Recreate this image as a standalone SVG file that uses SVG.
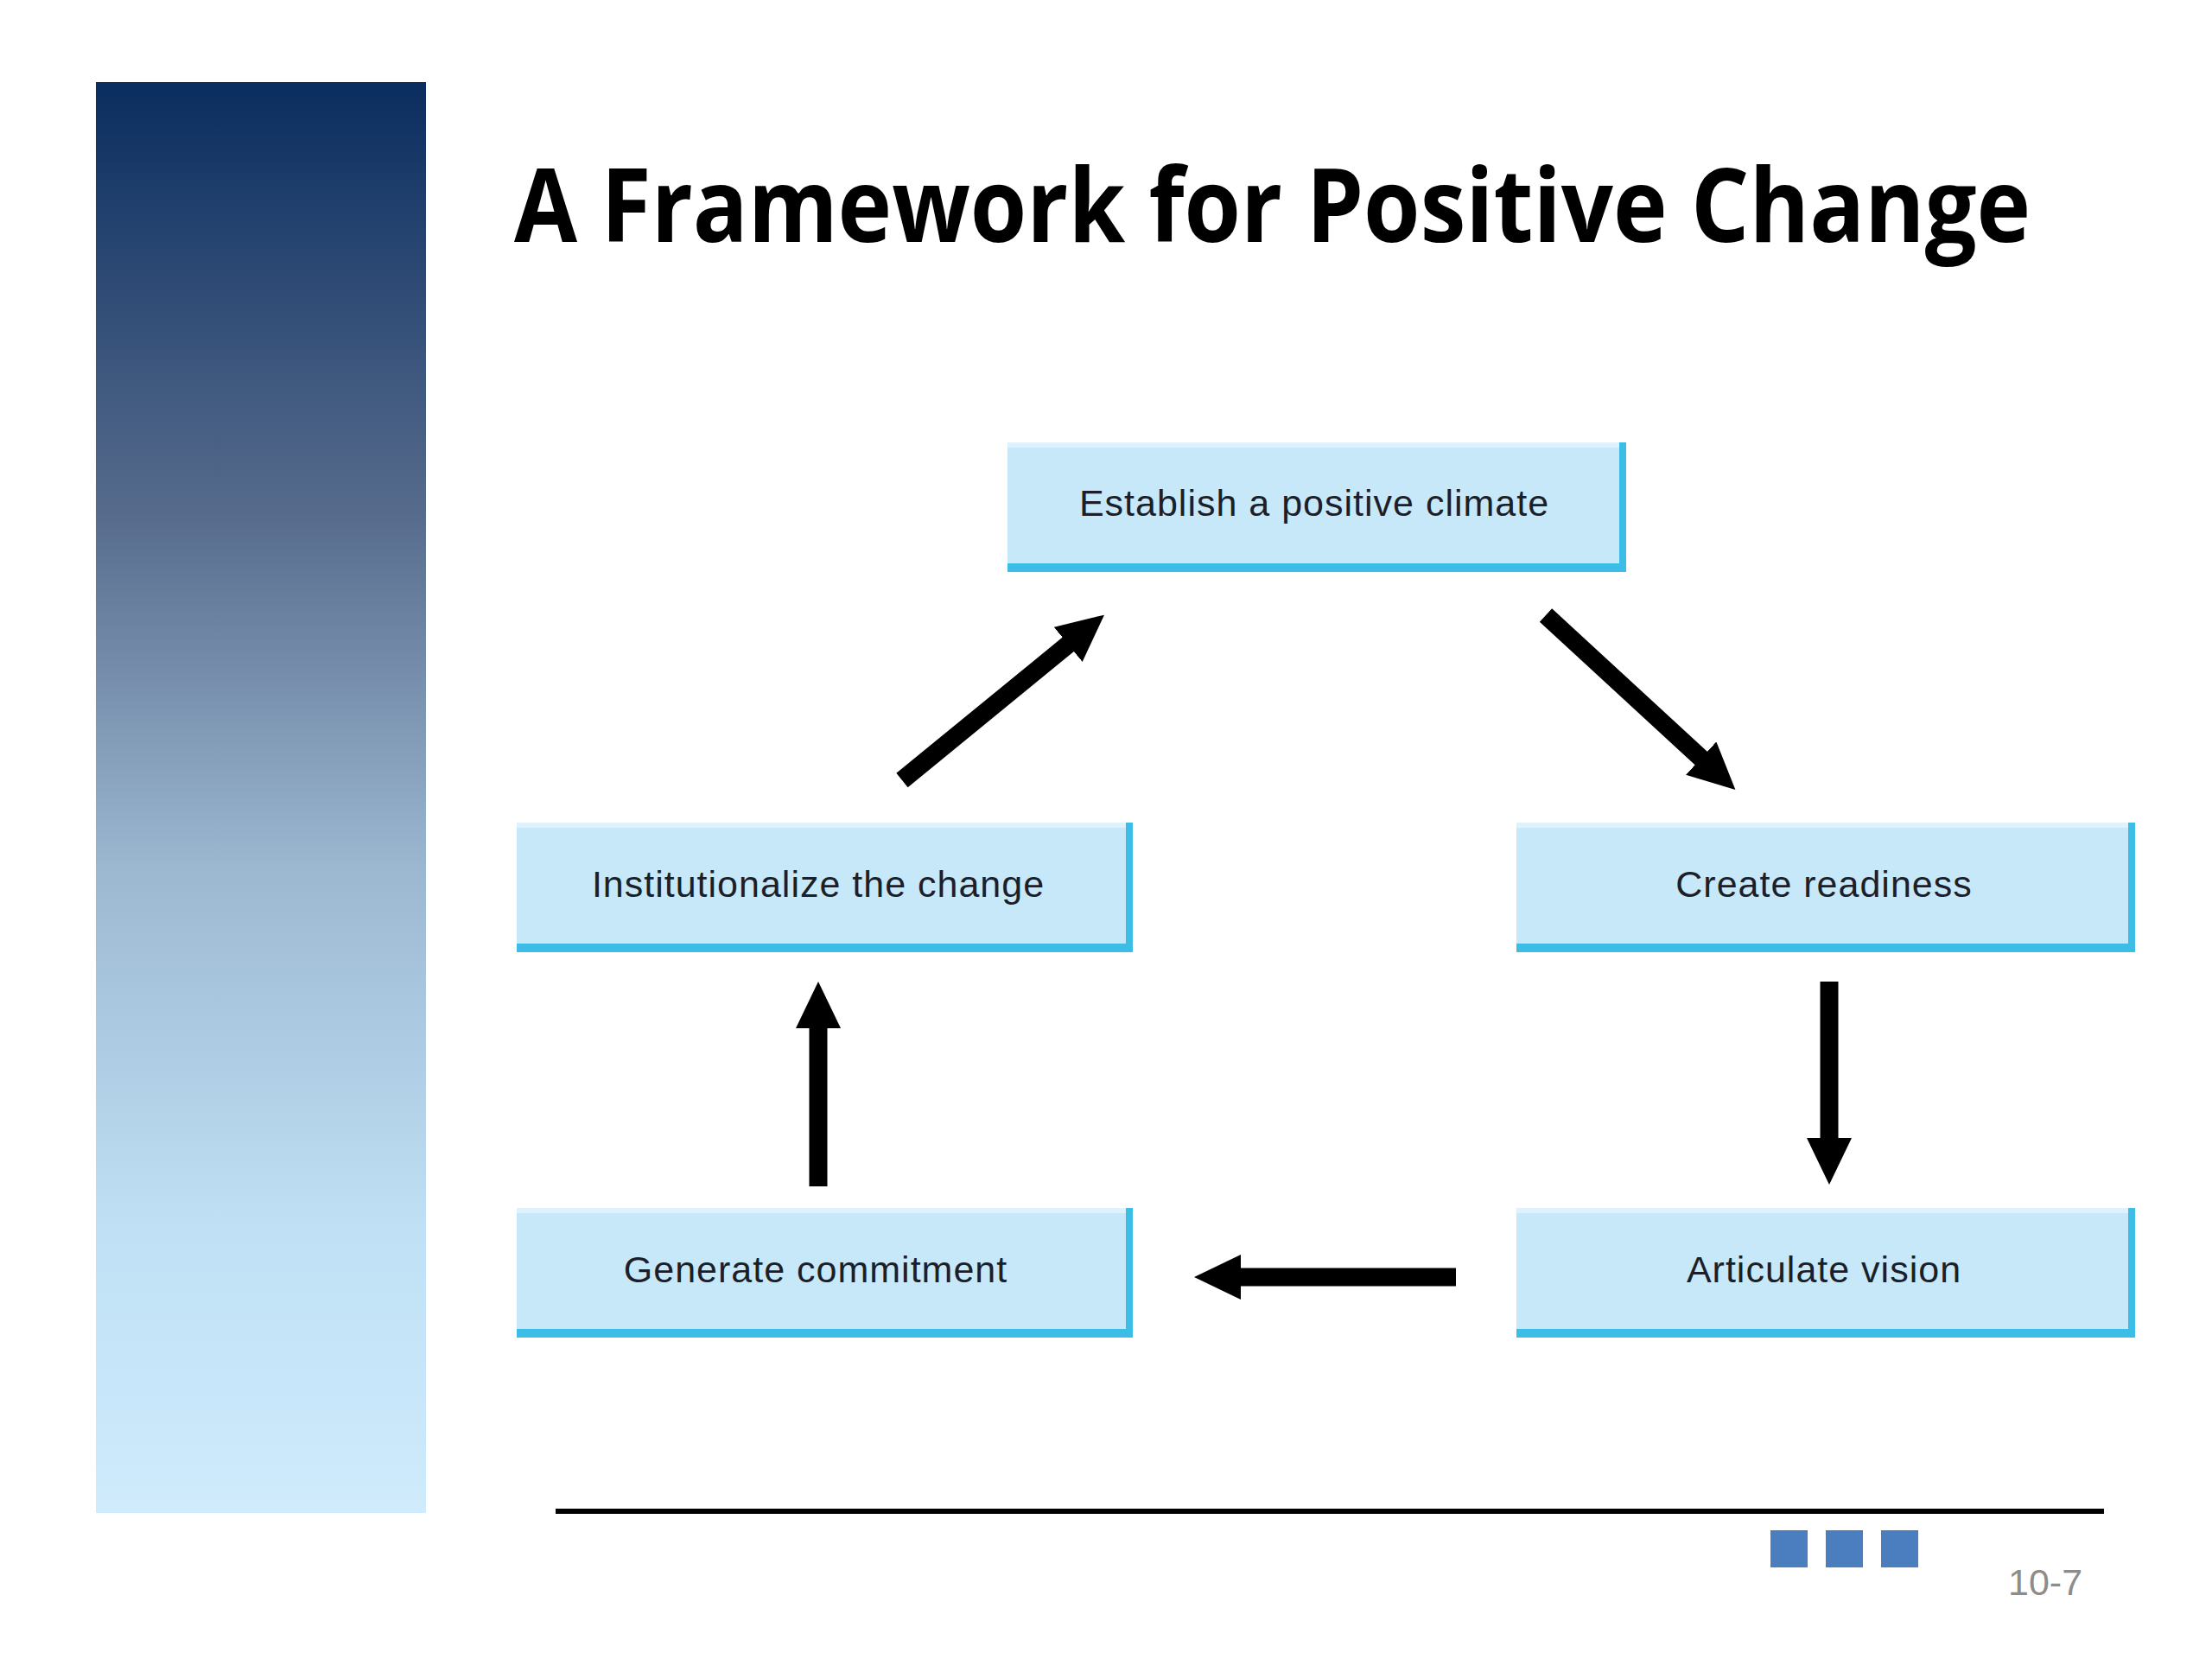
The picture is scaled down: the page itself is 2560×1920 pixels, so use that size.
<svg xmlns="http://www.w3.org/2000/svg" width="2560" height="1920" viewBox="0 0 2560 1920">
<style>
.box{fill:#c6e8f8}
.hl{fill:#dff2fc}
.edge{fill:#3cbde6}
.lbl{font-family:"Liberation Sans",Arial,sans-serif;font-size:43px;fill:#1c1f2a;text-anchor:middle;letter-spacing:1px}
.arr{stroke:#000;stroke-width:21;fill:none;marker-end:url(#head)}
</style>
<defs>
<linearGradient id="bar" x1="0" y1="0" x2="0" y2="1">
<stop offset="0" stop-color="#0a2d5f"/>
<stop offset="0.3" stop-color="#566b8c"/>
<stop offset="0.55" stop-color="#9cb8d1"/>
<stop offset="0.8" stop-color="#bfe0f5"/>
<stop offset="1" stop-color="#cfebfc"/>
</linearGradient>
<marker id="head" markerUnits="userSpaceOnUse" viewBox="0 0 54 52" markerWidth="54" markerHeight="52" refX="14" refY="26" orient="auto">
<path d="M0,0 L54,26 L0,52 Z" fill="#000"/>
</marker>
</defs>
<rect width="2560" height="1920" fill="#fff"/>
<rect x="111" y="95" width="382" height="1656" fill="url(#bar)"/>
<text x="595" y="280" font-family="'Open Sans','Noto Sans',sans-serif" font-weight="700" font-size="118" fill="#000" textLength="1755" lengthAdjust="spacingAndGlyphs">A Framework for Positive Change</text>

<g id="node-climate">
<rect class="box" x="1166" y="512" width="716" height="150"/>
<rect class="hl" x="1166" y="512" width="708" height="6"/>
<rect class="edge" x="1166" y="652" width="716" height="10"/>
<rect class="edge" x="1874" y="512" width="8" height="150"/>
<text class="lbl" x="1521" y="597">Establish a positive climate</text>
</g>
<g id="node-institutionalize">
<rect class="box" x="598" y="952" width="713" height="150"/>
<rect class="hl" x="598" y="952" width="705" height="6"/>
<rect class="edge" x="598" y="1092" width="713" height="10"/>
<rect class="edge" x="1303" y="952" width="8" height="150"/>
<text class="lbl" x="947" y="1038">Institutionalize the change</text>
</g>
<g id="node-readiness">
<rect class="box" x="1755" y="952" width="716" height="150"/>
<rect class="hl" x="1755" y="952" width="708" height="6"/>
<rect class="edge" x="1755" y="1092" width="716" height="10"/>
<rect class="edge" x="2463" y="952" width="8" height="150"/>
<text class="lbl" x="2111" y="1038">Create readiness</text>
</g>
<g id="node-commitment">
<rect class="box" x="598" y="1398" width="713" height="150"/>
<rect class="hl" x="598" y="1398" width="705" height="6"/>
<rect class="edge" x="598" y="1538" width="713" height="10"/>
<rect class="edge" x="1303" y="1398" width="8" height="150"/>
<text class="lbl" x="944" y="1484">Generate commitment</text>
</g>
<g id="node-vision">
<rect class="box" x="1755" y="1398" width="716" height="150"/>
<rect class="hl" x="1755" y="1398" width="708" height="6"/>
<rect class="edge" x="1755" y="1538" width="716" height="10"/>
<rect class="edge" x="2463" y="1398" width="8" height="150"/>
<text class="lbl" x="2111" y="1484">Articulate vision</text>
</g>

<g id="connectors">
<path class="arr" d="M1044,903 L1247,737"/>
<path class="arr" d="M1789,712 L1979,887"/>
<path class="arr" d="M2117,1136 L2117,1331"/>
<path class="arr" d="M1685,1478 L1422,1478"/>
<path class="arr" d="M947,1373 L947,1176"/>
</g>

<rect x="643" y="1746" width="1792" height="6" fill="#000"/>
<rect x="2049" y="1771" width="43" height="43" fill="#4a7ebf"/>
<rect x="2113" y="1771" width="43" height="43" fill="#4a7ebf"/>
<rect x="2177" y="1771" width="43" height="43" fill="#4a7ebf"/>
<text x="2324" y="1846" font-family="'Liberation Sans',Arial,sans-serif" font-size="43" fill="#8c8c8c">10-7</text>
</svg>
